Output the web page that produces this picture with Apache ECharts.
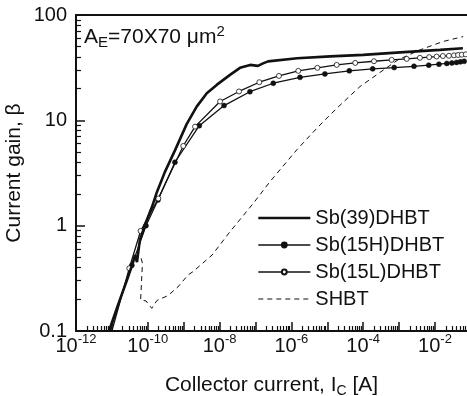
<!DOCTYPE html>
<html>
<head>
<meta charset="utf-8">
<script src="https://cdn.jsdelivr.net/npm/echarts@6/dist/echarts.min.js"></script>
<style>
html,body{margin:0;padding:0;background:#fff;}
#chart{width:467px;height:396px;}
</style>
</head>
<body>
<div id="chart"></div>
<script>
// ---- data (collector current in A, current gain beta) ----
const sb39Current = [8.3e-12, 1.48e-11, 2.63e-11, 3.9e-11, 4.4e-11, 5.0e-11, 6.0e-11, 8.9e-11, 1.31e-10, 1.8e-10, 3.0e-10, 5.8e-10, 1.21e-9, 2.3e-9, 4.4e-9, 8.3e-9, 1.95e-8, 3.7e-8, 7.1e-8, 1.17e-7, 1.62e-7, 2.24e-7, 1.45e-6, 1.2e-5, 1.0e-4, 1.07e-3, 1.38e-2, 6.0e-2];
const sb39Gain    = [0.1, 0.177, 0.305, 0.45, 0.527, 0.45, 0.73, 1.08, 1.51, 2.09, 3.24, 5.24, 9.2, 13.5, 18.1, 21.7, 27, 31.5, 33.6, 32.9, 34.7, 36.3, 38.9, 40.5, 41.8, 44.2, 46.7, 48.4];

const sb15HCurrent = [8.9e-12, 1.7e-11, 3.6e-11, 8.9e-11, 1.92e-10, 5.7e-10, 2.72e-9, 1.33e-8, 7.0e-8, 3.13e-7, 1.74e-6, 8.6e-6, 4.1e-5, 1.84e-4, 7.3e-4, 2.6e-3, 6.7e-3, 1.29e-2, 2.14e-2, 2.95e-2, 3.98e-2, 5.1e-2, 6.5e-2];
const sb15HGain    = [0.1, 0.197, 0.42, 1.0, 1.75, 4.0, 8.9, 13.8, 18.7, 22.5, 25.6, 27.6, 29.5, 30.8, 31.7, 32.6, 33.4, 34.1, 34.7, 35.1, 35.5, 35.9, 36.3];

const sb15LCurrent = [1.0e-11, 3.05e-11, 6.3e-11, 1.96e-10, 9.7e-10, 2.07e-9, 1.03e-8, 3.47e-8, 1.28e-7, 4.5e-7, 1.56e-6, 5.3e-6, 1.83e-5, 6.0e-5, 2.0e-4, 6.2e-4, 1.63e-3, 3.8e-3, 6.9e-3, 1.11e-2, 1.66e-2, 2.45e-2, 3.4e-2, 4.4e-2, 5.6e-2, 7.2e-2];
const sb15LGain    = [0.1, 0.394, 0.891, 1.81, 5.71, 8.71, 15.1, 18.8, 23.0, 26.4, 29.5, 31.5, 33.6, 35.1, 36.4, 37.5, 38.3, 39.2, 39.8, 40.3, 40.8, 41.0, 41.4, 41.7, 42.0, 42.3];

const shbtCurrent = [6.5e-11, 7.1e-11, 6.3e-11, 8.9e-11, 1.29e-10, 1.8e-10, 3.66e-10, 6.9e-10, 1.32e-9, 1.82e-9, 6.2e-9, 1.95e-8, 8.7e-8, 2.54e-7, 1.41e-6, 5.1e-6, 1.83e-5, 8.1e-5, 2.94e-4, 9.3e-4, 3.8e-3, 1.67e-2, 6.1e-2];
const shbtGain    = [0.49, 0.44, 0.197, 0.193, 0.164, 0.195, 0.217, 0.262, 0.34, 0.366, 0.527, 0.877, 1.63, 2.62, 5.24, 8.41, 13.0, 20.9, 28.5, 37.5, 46.6, 56, 62.4];

const seriesNames = ['Sb(39)DHBT', 'Sb(15H)DHBT', 'Sb(15L)DHBT', 'SHBT'];

// tick labels
const xLabelExponents = [-12, -10, -8, -6, -4, -2];
const xDecadeExponents = [-12, -11, -10, -9, -8, -7, -6, -5, -4, -3, -2];
const yDecadeExponents = [-1, 0, 1, 2];
const yTickLabels = ['0.1', '1', '10', '100'];

// ---- build ----
const X_MIN = -12, X_MAX = -1.108, Y_MIN = -1, Y_MAX = 2;
function pairs(I, G, skipMarkers) {
  return I.map((v, i) => {
    const val = [Math.log10(v), Math.log10(G[i])];
    return i < (skipMarkers || 0) ? {value: val, symbol: 'none'} : {value: val};
  });
}
function minorTicks(decades, lo, hi) {
  const out = [];
  decades.forEach(d => { for (let k = 2; k <= 9; k++) { const v = d + Math.log10(k); if (v > lo && v < hi) out.push(v); } });
  return out;
}
const xMinor = minorTicks([-12,-11,-10,-9,-8,-7,-6,-5,-4,-3,-2], X_MIN, X_MAX);
const yMinor = minorTicks([-1, 0, 1], Y_MIN, Y_MAX);

const FONT = 'Liberation Sans, Arial, sans-serif';
const INK = '#111';
const W_THICK = 2.6, W_THIN = 1.3;

const chart = echarts.init(document.getElementById('chart'), null, {renderer: 'canvas'});

const hidden = {show: false};
chart.setOption({
  animation: false,
  backgroundColor: '#fff',
  grid: {left: 76, top: 15, right: 0, bottom: 65, containLabel: false, outerBoundsMode: 'none'},
  title: {
    text: '{n|A}{sub|E}{n|=70X70 μm}{sup|2}',
    left: 79, top: 19, padding: 5,
    textStyle: {
      fontWeight: 'normal',
      rich: {
        n: {fontSize: 21, lineHeight: 26, fontFamily: FONT, color: INK, fontWeight: 'normal'},
        sub: {fontSize: 15, lineHeight: 14, verticalAlign: 'bottom', fontFamily: FONT, color: INK, fontWeight: 'normal'},
        sup: {fontSize: 15, lineHeight: 12, verticalAlign: 'top', fontFamily: FONT, color: INK, fontWeight: 'normal'}
      }
    }
  },
  legend: {
    orient: 'vertical', left: 252, top: 202,
    itemWidth: 52, itemHeight: 6, itemGap: 5,
    textStyle: {fontSize: 20, lineHeight: 22, fontFamily: FONT, color: INK},
    data: [
      {name: seriesNames[0], lineStyle: {width: W_THICK}},
      {name: seriesNames[1], lineStyle: {width: W_THIN}},
      {name: seriesNames[2], lineStyle: {width: W_THIN}},
      {name: seriesNames[3], lineStyle: {width: 1}}
    ]
  },
  xAxis: [
    {
      type: 'value', min: X_MIN, max: X_MAX, position: 'bottom',
      axisLine: {onZero: false, lineStyle: {color: INK, width: 2}},
      axisTick: {inside: true, length: 9, customValues: xDecadeExponents, lineStyle: {color: INK, width: 1.5}},
      axisLabel: {
        customValues: xLabelExponents, margin: 2,
        formatter: v => '{b|10}{s|' + v + '}',
        rich: {
          b: {fontSize: 20, lineHeight: 26, fontFamily: FONT, color: INK},
          s: {fontSize: 13, lineHeight: 11, verticalAlign: 'top', fontFamily: FONT, color: INK}
        }
      },
      splitLine: hidden,
      name: '{n|Collector current, I}{sub|C}{n| [A]}',
      nameLocation: 'middle', nameGap: 41,
      nameTextStyle: {
        rich: {
          n: {fontSize: 21, lineHeight: 26, fontFamily: FONT, color: INK},
          sub: {fontSize: 14, lineHeight: 14, verticalAlign: 'bottom', fontFamily: FONT, color: INK}
        }
      }
    },
    {
      type: 'value', min: X_MIN, max: X_MAX, position: 'bottom',
      axisLine: {show: false, onZero: false},
      axisTick: {inside: true, length: 5, customValues: xMinor, lineStyle: {color: INK, width: 1.2}},
      axisLabel: hidden, splitLine: hidden
    },
    {
      type: 'value', min: X_MIN, max: X_MAX, position: 'top',
      axisLine: {onZero: false, lineStyle: {color: INK, width: 2}},
      axisTick: hidden, axisLabel: hidden, splitLine: hidden
    }
  ],
  yAxis: [
    {
      type: 'value', min: Y_MIN, max: Y_MAX, position: 'left',
      axisLine: {onZero: false, lineStyle: {color: INK, width: 2}},
      axisTick: {inside: true, length: 9, customValues: yDecadeExponents, lineStyle: {color: INK, width: 1.5}},
      axisLabel: {
        customValues: yDecadeExponents, margin: 9,
        fontSize: 20, fontFamily: FONT, color: INK,
        formatter: v => yTickLabels[yDecadeExponents.indexOf(Math.round(v))]
      },
      splitLine: hidden,
      name: 'Current gain, β', nameLocation: 'middle', nameGap: 51, nameMoveOverlap: false,
      nameTextStyle: {fontSize: 21, fontFamily: FONT, color: INK}
    },
    {
      type: 'value', min: Y_MIN, max: Y_MAX, position: 'left',
      axisLine: {show: false, onZero: false},
      axisTick: {inside: true, length: 5, customValues: yMinor, lineStyle: {color: INK, width: 1.2}},
      axisLabel: hidden, splitLine: hidden
    }
  ],
  series: [
    {
      name: seriesNames[3], type: 'line', data: pairs(shbtCurrent, shbtGain),
      symbol: 'none', itemStyle: {color: INK, opacity: 0},
      lineStyle: {color: INK, width: 1, type: [5, 4]}, z: 2
    },
    {
      name: seriesNames[1], type: 'line', data: pairs(sb15HCurrent, sb15HGain, 2),
      symbol: 'circle', symbolSize: 5, showSymbol: true,
      itemStyle: {color: INK, borderColor: INK, borderWidth: 0.5},
      lineStyle: {color: INK, width: W_THIN}, z: 3
    },
    {
      name: seriesNames[2], type: 'line', data: pairs(sb15LCurrent, sb15LGain, 1),
      symbol: 'circle', symbolSize: 5, showSymbol: true,
      itemStyle: {color: '#fff', borderColor: INK, borderWidth: 0.8},
      lineStyle: {color: INK, width: W_THIN}, z: 4
    },
    {
      name: seriesNames[0], type: 'line', data: pairs(sb39Current, sb39Gain),
      symbol: 'none', itemStyle: {color: INK, opacity: 0},
      lineStyle: {color: INK, width: W_THICK}, z: 5
    }
  ]
});
</script>
</body>
</html>
